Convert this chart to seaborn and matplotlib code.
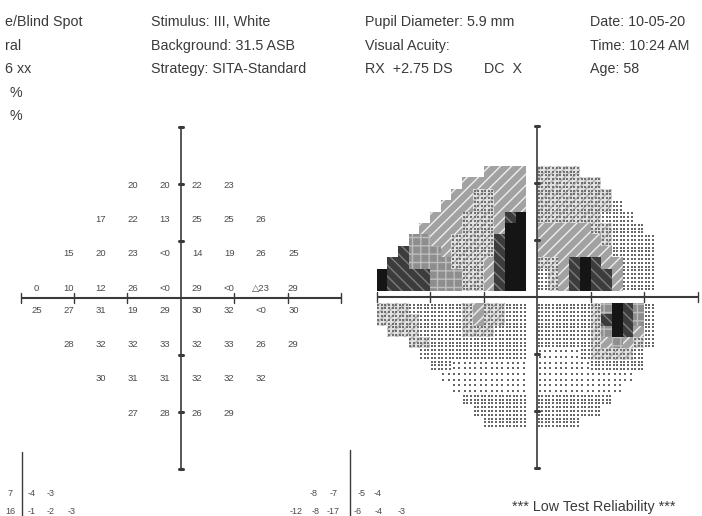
import numpy as np
import pandas as pd
import matplotlib
matplotlib.use("Agg")
import matplotlib.pyplot as plt
from matplotlib.patches import Rectangle
from matplotlib.collections import PatchCollection
import seaborn as sns

sns.set_theme(style="white")
plt.rcParams["font.family"] = ["Liberation Sans", "DejaVu Sans"]
plt.rcParams["hatch.linewidth"] = 1.0

W, H = 702, 516
INK = "#3a3a3a"
AXIS_INK = "#3a3a3a"

# ---------------- header block ----------------
header_left = ["e/Blind Spot", "ral", "6 xx", "%", "%"]
header_stimulus = ["Stimulus: III, White", "Background: 31.5 ASB", "Strategy: SITA-Standard"]
header_pupil = ["Pupil Diameter: 5.9 mm", "Visual Acuity:", "RX  +2.75 DS"]
header_refraction_dc = "DC  X"
header_date = ["Date: 10-05-20", "Time: 10:24 AM", "Age: 58"]
footer_note = "*** Low Test Reliability ***"

# ---------------- threshold values (dB), 24-2 grid ----------------
grid_row_y = [21, 15, 9, 3, -3, -9, -15, -21]
grid_row_x0 = [-9, -15, -21, -27, -27, -21, -15, -9]
threshold_labels = [
    ["20", "20", "22", "23"],
    ["17", "22", "13", "25", "25", "26"],
    ["15", "20", "23", "<0", "14", "19", "26", "25"],
    ["0", "10", "12", "26", "<0", "29", "<0", "\u25b323", "29"],
    ["25", "27", "31", "19", "29", "30", "32", "<0", "30"],
    ["28", "32", "32", "33", "32", "33", "26", "29"],
    ["30", "31", "31", "32", "32", "32"],
    ["27", "28", "26", "29"],
]

# ---------------- grayscale map: symbol level per 2 deg cell ----------------
# 0 blank, 1 sparse dots, 2 dense dots, 3 light, 4 grey, 5 dark grey, 6 very dark, 7 black
# columns: left edges -30, -28, ..., 20 ; rows listed superior -> inferior
gray_row_bottom = [21, 19, 17, 15, 13, 11, 9, 7, 5, 3, 1,
                   -3, -5, -7, -9, -11, -13, -15, -17, -19, -21, -23]
gray_levels = [
    "00000000004444" "0" "33330000000",
    "00000000444444" "0" "33333300000",
    "00000004433444" "0" "33333330000",
    "00000044433444" "0" "33333332000",
    "00000444333467" "0" "33333322200",
    "00004444333477" "0" "44444332220",
    "00055443333677" "0" "44444432222",
    "00655543333677" "0" "44444442222",
    "06655553334677" "0" "33467644222",
    "76666555334677" "0" "23467664222",
    "76666555334677" "0" "23467664222",
    "33322222343322" "0" "22222357652",
    "33332222343322" "0" "22222367652",
    "03332222333222" "0" "22222357642",
    "00033222222222" "0" "22222345432",
    "00002222222222" "0" "11112333320",
    "00000221111111" "0" "11111222220",
    "00000011111111" "0" "11111111100",
    "00000001111111" "0" "11111111000",
    "00000000222222" "0" "22222220000",
    "00000000022222" "0" "22222200000",
    "00000000002222" "0" "22220000000",
]
gray_col_left0 = -30
cell = 2.0

# partial deviation rows along the lower edge
dev_left_rows = [["7", "-4", "-3"], ["16", "-1", "-2", "-3"]]
dev_left_x = [[10, 32, 51], [10, 32, 51, 72]]
dev_mid_rows = [["-8", "-7", "-5", "-4"], ["-12", "-8", "-17", "-6", "-4", "-3"]]
dev_mid_x = [[314, 334, 362, 378], [296, 316, 333, 358, 379, 402]]
dev_row_y = [494, 511]

fig = plt.figure(figsize=(W / 100, H / 100), dpi=100)
fig.patch.set_facecolor("white")


def panel_axes(cx, cy, sx, sy, xr, yr):
    left = cx + xr[0] * sx
    right = cx + xr[1] * sx
    top = cy - yr[1] * sy
    bottom = cy - yr[0] * sy
    ax = fig.add_axes([left / W, 1 - bottom / H, (right - left) / W, (bottom - top) / H])
    ax.set_xlim(*xr)
    ax.set_ylim(*yr)
    ax.set_axis_off()
    ax.patch.set_alpha(0)
    return ax


def draw_cross(ax):
    ax.plot([-30, 30], [0, 0], color=AXIS_INK, lw=1.5, solid_capstyle="butt", zorder=5)
    ax.plot([0, 0], [-30, 30], color=AXIS_INK, lw=1.2, solid_capstyle="butt", zorder=5)
    for t in [-30, -20, -10, 10, 20, 30]:
        ax.plot([t, t], [-0.9, 0.9], color=AXIS_INK, lw=1.0, zorder=5)
        ax.plot([-0.45, 0.45], [t, t], color=AXIS_INK, lw=2.2, zorder=5)


# ---------------- left panel: numeric thresholds ----------------
axL = panel_axes(181, 298, 5.35, 5.7, (-33, 33), (-33, 33))
draw_cross(axL)
for y, x0, labels in zip(grid_row_y, grid_row_x0, threshold_labels):
    dy = -1.25 if y > 0 else 0.8
    for k, lab in enumerate(labels):
        axL.text(x0 + 6 * k, y + dy, lab, ha="center", va="center",
                 fontsize=6.8, color="#4a4a4a", zorder=6)

# ---------------- right panel: grayscale map ----------------
axR = panel_axes(537, 297, 5.35, 5.7, (-31, 30.5), (-33, 33))
draw_cross(axR)

level_style = {
    3: dict(face="#e0e0e0", hatch="////", hc="#b0b0b0"),
    4: dict(face="#a2a2a2", hatch="///", hc="#eeeeee"),
    5: dict(face="#8e8e8e", hatch="++", hc="#bdbdbd"),
    6: dict(face="#3c3c3c", hatch="\\\\\\", hc="#7c7c7c"),
    7: dict(face="#151515", hatch=None, hc="#151515"),
}
dots_per_side = {1: 2, 2: 3, 3: 3}

rects = {lv: [] for lv in level_style}
dot_x, dot_y, dot_lv = [], [], []
for yb, row in zip(gray_row_bottom, gray_levels):
    for j, ch in enumerate(row):
        lv = int(ch)
        if lv == 0:
            continue
        xl = gray_col_left0 + cell * j
        if lv in rects:
            rects[lv].append(Rectangle((xl, yb), cell, cell))
        if lv in dots_per_side:
            n = dots_per_side[lv]
            offs = (np.arange(n) + 0.5) * cell / n
            for ox in offs:
                for oy in offs:
                    dot_x.append(xl + ox)
                    dot_y.append(yb + oy)
                    dot_lv.append(lv)

for lv, st in level_style.items():
    if not rects[lv]:
        continue
    pc = PatchCollection(rects[lv], facecolor=st["face"], edgecolor=st["hc"],
                         linewidth=0, hatch=st["hatch"], zorder=2)
    axR.add_collection(pc)

dots = pd.DataFrame({"x": dot_x, "y": dot_y, "level": dot_lv})
sns.scatterplot(data=dots[dots.level < 3], x="x", y="y", ax=axR, s=2.4, marker="s",
                color="#666666", linewidth=0, legend=False, zorder=3)
sns.scatterplot(data=dots[dots.level == 3], x="x", y="y", ax=axR, s=2.0, marker="s",
                color="#707070", linewidth=0, legend=False, zorder=3)
axR.set_axis_off()

# ---------------- header text ----------------
hdr_y = [22, 46, 69, 93, 116]
fs = 10.3
for y, t in zip(hdr_y, header_left):
    fig.text(5 / W if t != "%" else 10 / W, 1 - y / H, t, fontsize=fs, color=INK, va="center")
for y, t in zip(hdr_y, header_stimulus):
    fig.text(151 / W, 1 - y / H, t, fontsize=fs, color=INK, va="center")
for y, t in zip(hdr_y, header_pupil):
    fig.text(365 / W, 1 - y / H, t, fontsize=fs, color=INK, va="center")
fig.text(484 / W, 1 - hdr_y[2] / H, header_refraction_dc, fontsize=fs, color=INK, va="center")
for y, t in zip(hdr_y, header_date):
    fig.text(590 / W, 1 - y / H, t, fontsize=fs, color=INK, va="center")

fig.text(512 / W, 1 - 507 / H, footer_note, fontsize=fs, color=INK, va="center")

# ---------------- deviation fragments at the bottom ----------------
for y, labs, xs in zip(dev_row_y, dev_left_rows, dev_left_x):
    for lab, x in zip(labs, xs):
        fig.text(x / W, 1 - y / H, lab, fontsize=6.5, color="#4a4a4a", ha="center", va="center")
for y, labs, xs in zip(dev_row_y, dev_mid_rows, dev_mid_x):
    for lab, x in zip(labs, xs):
        fig.text(x / W, 1 - y / H, lab, fontsize=6.5, color="#4a4a4a", ha="center", va="center")
fig.add_artist(plt.Line2D([21.7 / W, 21.7 / W], [1 - 452 / H, 0], color=AXIS_INK, lw=1.0))
fig.add_artist(plt.Line2D([349.5 / W, 349.5 / W], [1 - 450 / H, 0], color=AXIS_INK, lw=1.0))

fig.savefig("out.png", dpi=100, facecolor="white")
